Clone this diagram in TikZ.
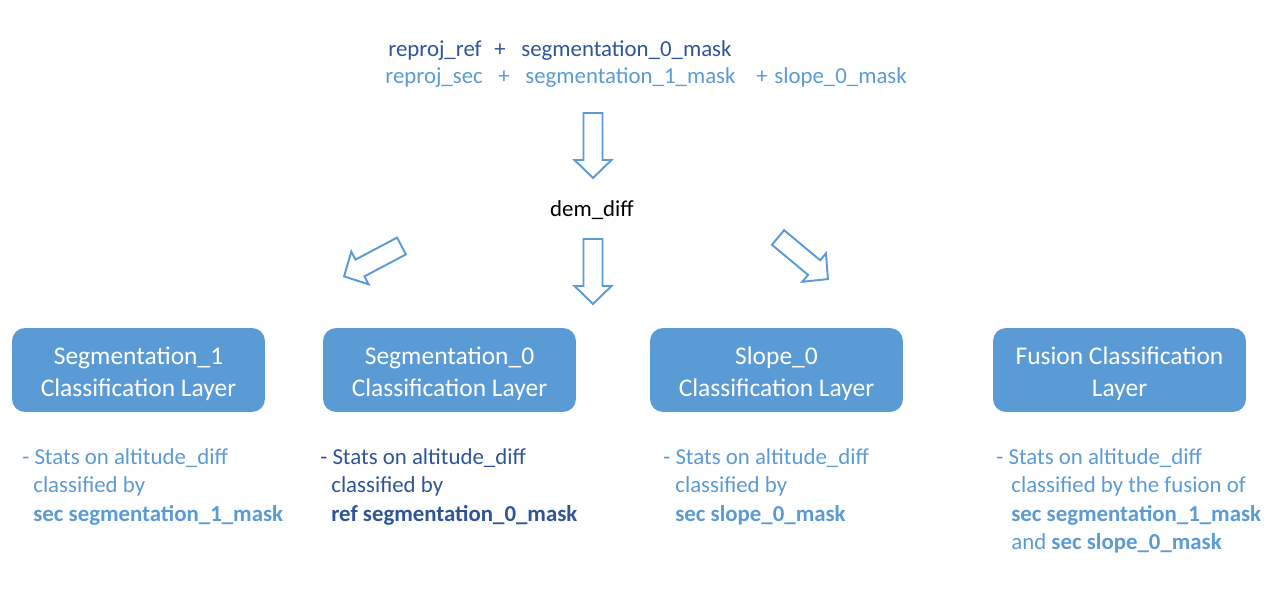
\documentclass[tikz,border=0pt]{standalone}
\usepackage{fontspec}
\setmainfont{Carlito}
\definecolor{lblue}{HTML}{5B9BD5}
\definecolor{dblue}{HTML}{2F5597}
\begin{document}
\begin{tikzpicture}[x=0.02cm,y=-0.02cm,
  layer/.style={rectangle, rounded corners=0.26cm, fill=lblue,
    minimum width=5.06cm, minimum height=1.68cm, inner sep=0pt},
  layertext/.style={text=white, align=center, inner sep=0pt, yshift=-0.07cm,
    font=\fontsize{14.5}{18}\selectfont},
  txt/.style={anchor=base west, inner sep=0pt, font=\fontsize{13}{16}\selectfont},
  blockarrow/.style={draw=lblue, line width=1.1pt, fill=white, line join=miter}
]
\useasboundingbox (0,0) rectangle (1280,590);

% top inputs
\node[txt, text=dblue] (rref) at (388,57) {reproj\_ref};
\node[txt, text=dblue] (p1) at (494,57) {+};
\node[txt, text=dblue] (seg0) at (521,57) {segmentation\_0\_mask};
\node[txt, text=lblue] (rsec) at (385,84) {reproj\_sec};
\node[txt, text=lblue] (p2) at (498,84) {+};
\node[txt, text=lblue] (seg1) at (525,84) {segmentation\_1\_mask};
\node[txt, text=lblue] (p3) at (756,84) {+};
\node[txt, text=lblue] (slope) at (774,84) {slope\_0\_mask};

% block arrows
\def\barrow{(0,-9.5) -- (47,-9.5) -- (47,-18.5) -- (65,0) -- (47,18.5) -- (47,9.5) -- (0,9.5) -- cycle}
\draw[blockarrow, shift={(593,113)}, rotate=-90] \barrow;
\draw[blockarrow, shift={(593,239)}, rotate=-90] \barrow;
\draw[blockarrow, shift={(401.5,246)}, rotate=-152.1] \barrow;
\draw[blockarrow, shift={(778,237.5)}, rotate=-39.8] \barrow;

\node[inner sep=0pt, font=\fontsize{13}{16}\selectfont] (dem) at (592,210) {dem\_diff};

% layers
\node[layer, label={[name=l1t, layertext]center:Segmentation\_1\\Classification Layer}] (l1) at (138.5,370) {};
\node[layer, label={[name=l2t, layertext]center:Segmentation\_0\\Classification Layer}] (l2) at (449.5,370) {};
\node[layer, label={[name=l3t, layertext]center:Slope\_0\\Classification Layer}] (l3) at (776.5,370) {};
\node[layer, label={[name=l4t, layertext]center:Fusion Classification\\Layer}] (l4) at (1119.5,370) {};

% descriptions
\node[txt, text=lblue] (d1a) at (22,465) {- Stats on altitude\_diff};
\node[txt, text=lblue] (d1b) at (33,493) {classified by};
\node[txt, text=lblue, font=\fontsize{13}{16}\selectfont\bfseries] (d1c) at (33,521) {sec segmentation\_1\_mask};

\node[txt, text=dblue] (d2a) at (320,465) {- Stats on altitude\_diff};
\node[txt, text=dblue] (d2b) at (331,493) {classified by};
\node[txt, text=dblue, font=\fontsize{13}{16}\selectfont\bfseries] (d2c) at (331,521) {ref segmentation\_0\_mask};

\node[txt, text=lblue] (d3a) at (663,465) {- Stats on altitude\_diff};
\node[txt, text=lblue] (d3b) at (675,493) {classified by};
\node[txt, text=lblue, font=\fontsize{13}{16}\selectfont\bfseries] (d3c) at (675,521) {sec slope\_0\_mask};

\node[txt, text=lblue] (d4a) at (996,465) {- Stats on altitude\_diff};
\node[txt, text=lblue] (d4b) at (1011,493) {classified by the fusion of};
\node[txt, text=lblue, font=\fontsize{13}{16}\selectfont\bfseries] (d4c) at (1011,521) {sec segmentation\_1\_mask};
\node[txt, text=lblue] (d4d) at (1011,549) {and \textbf{sec slope\_0\_mask}};
\end{tikzpicture}
\end{document}
